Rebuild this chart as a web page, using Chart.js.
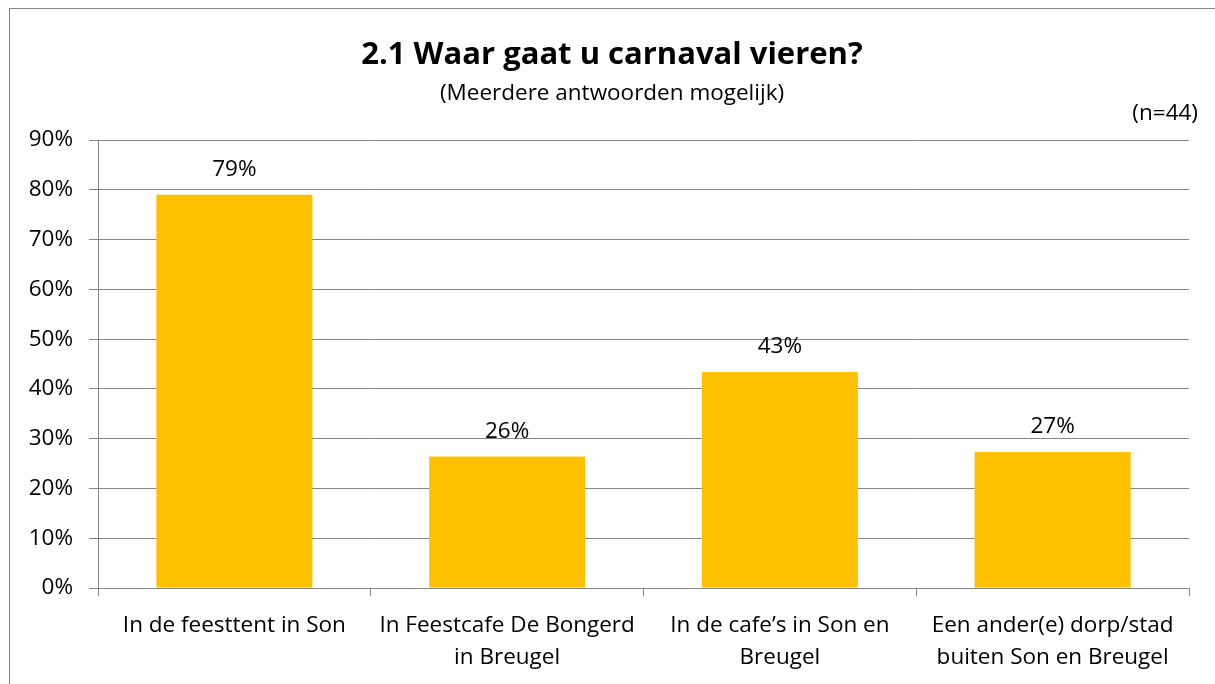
<!DOCTYPE html>
<html><head><meta charset="utf-8">
<script src="https://cdn.jsdelivr.net/npm/chart.js@4/dist/chart.umd.min.js"></script>
<style>html,body{margin:0;padding:0;background:#fff}#wrap{width:1215px;height:684px;position:relative}</style>
</head><body><div id="wrap"><canvas id="c" width="1215" height="684"></canvas></div>
<script>
const categories = [
  ["In de feesttent in Son"],
  ["In Feestcafe De Bongerd", "in Breugel"],
  ["In de cafe\u2019s in Son en", "Breugel"],
  ["Een ander(e) dorp/stad", "buiten Son en Breugel"]
];
const values = [79.0, 26.4, 43.4, 27.3];
const valueLabels = ["79%", "26%", "43%", "27%"];
const titleText = "2.1 Waar gaat u carnaval vieren?";
const subtitleText = "(Meerdere antwoorden mogelijk)";
const noteText = "(n=44)";
const yMax = 90, yStep = 10;

const FONT = "'Open Sans', 'Liberation Sans', sans-serif";
const GRID = '#868686';
const FS = 22.5;

const extras = {
  id: 'extras',
  afterDraw(chart) {
    const ctx = chart.ctx;
    ctx.save();
    ctx.strokeStyle = '#868686';
    ctx.lineWidth = 1;
    ctx.strokeRect(9.5, 8.5, 1220, 700);
    ctx.fillStyle = '#000';
    ctx.textAlign = 'center';
    ctx.textBaseline = 'alphabetic';
    ctx.font = "bold 31px " + FONT;
    ctx.fillText(titleText, 612, 64);
    ctx.font = FS + "px " + FONT;
    ctx.fillText(subtitleText, 612, 100);
    ctx.textAlign = 'right';
    ctx.fillText(noteText, 1198, 120);
    const meta = chart.getDatasetMeta(0);
    ctx.textAlign = 'center';
    meta.data.forEach((bar, i) => {
      ctx.fillText(valueLabels[i], bar.x, bar.y - 19);
    });
    ctx.restore();
  }
};

new Chart(document.getElementById('c'), {
  type: 'bar',
  data: {
    labels: categories,
    datasets: [{
      data: values,
      backgroundColor: '#FFC000',
      borderWidth: 0,
      categoryPercentage: 1,
      barPercentage: 0.572
    }]
  },
  options: {
    responsive: false,
    animation: false,
    layout: { padding: { top: 140, right: 26, left: 0, bottom: 0 } },
    plugins: { legend: { display: false }, tooltip: { enabled: false }, title: { display: false } },
    scales: {
      x: {
        grid: { display: true, drawOnChartArea: false, drawTicks: true, tickLength: 8, color: GRID, offset: true },
        border: { color: GRID, width: 1 },
        ticks: { color: '#000', font: { family: FONT, size: FS, lineHeight: 1.45 }, padding: 13, maxRotation: 0, autoSkip: false },
        afterFit(s) { s.height = 96; }
      },
      y: {
        min: 0, max: yMax,
        grid: { color: GRID, lineWidth: 1, tickLength: 9 },
        border: { color: GRID, width: 1 },
        ticks: { stepSize: yStep, color: '#000', font: { family: FONT, size: FS }, padding: 16, callback: v => v + '%' },
        afterFit(s) { s.width = 98; }
      }
    }
  },
  plugins: [extras]
});
</script></body></html>
